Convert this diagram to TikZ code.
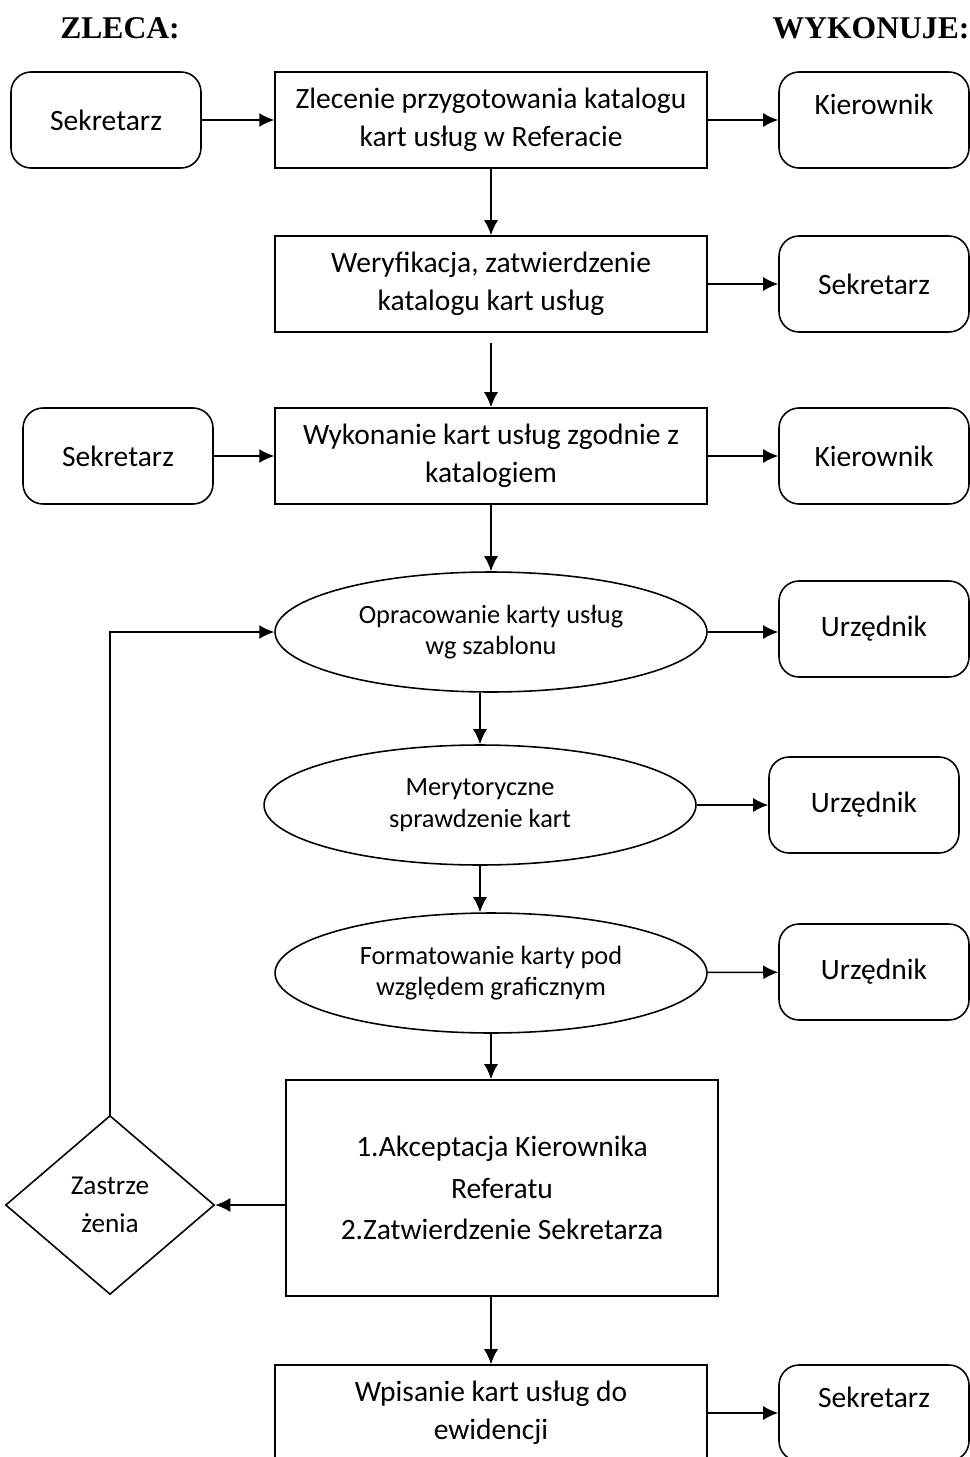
\documentclass[tikz,border=0pt]{standalone}
\usepackage{fontspec}
\setmainfont{Carlito}
\newfontfamily\headfont{Liberation Serif}
\usetikzlibrary{shapes.geometric,arrows.meta}
\begin{document}
\begin{tikzpicture}[x=0.02cm, y=-0.02cm, line width=0.9pt,
  font=\fontsize{16.8}{21.6}\selectfont,
  head/.style={font=\headfont\bfseries\fontsize{18}{20}\selectfont},
  task/.style={draw, minimum width=8.64cm, minimum height=1.92cm,
               align=center, inner sep=0pt},
  who/.style={draw, rounded corners=0.4cm, minimum width=3.8cm,
              minimum height=1.92cm, align=center},
  whotop/.style={who, text depth=0.62cm},
  oval/.style={draw, ellipse, minimum width=8.64cm, minimum height=2.4cm,
               inner sep=0pt, align=center, font=\fontsize{15}{18}\selectfont},
  check/.style={draw, diamond, minimum width=4.18cm, minimum height=3.58cm,
                inner sep=0pt, align=center, font=\fontsize{15.5}{21.6}\selectfont},
  arr/.style={-{Latex[length=0.3cm, width=0.28cm]}}
]
  \useasboundingbox (0,0) rectangle (970,1457);
  \clip (0,0) rectangle (970,1457);
  % Naglowki kolumn
  \node[head] (zleca) at (120,28) {ZLECA:};
  \node[head] (wyk)   at (871,28) {WYKONUJE:};
  % Zlecenie katalogu
  \node[who]    (sek1)  at (106,120) {Sekretarz};
  \node[task]   (box1)  at (491,120) {Zlecenie przygotowania katalogu\\kart usług w Referacie};
  \node[whotop] (kier1) at (874,120) {Kierownik};
  % Weryfikacja
  \node[task]   (box2)  at (491,284) {Weryfikacja, zatwierdzenie\\katalogu kart usług};
  \node[who]    (sek2)  at (874,284) {Sekretarz};
  % Wykonanie kart
  \node[who]    (sek3)  at (118,456) {Sekretarz};
  \node[task]   (box3)  at (491,456) {Wykonanie kart usług zgodnie z\\katalogiem};
  \node[who]    (kier3) at (874,456) {Kierownik};
  % Praca urzednikow
  \node[oval]   (ell1)  at (491,632) {Opracowanie karty usług\\wg szablonu};
  \node[who]    (urz1)  at (874,629) {Urzędnik};
  \node[oval]   (ell2)  at (480,805) {Merytoryczne\\sprawdzenie kart};
  \node[who]    (urz2)  at (864,805) {Urzędnik};
  \node[oval]   (ell3)  at (491,973) {Formatowanie karty pod\\względem graficznym};
  \node[who]    (urz3)  at (874,972) {Urzędnik};
  % Akceptacja
  \node[task, minimum height=4.32cm, font=\fontsize{16.8}{23.6}\selectfont] (box4) at (502,1188)
        {1.Akceptacja Kierownika\\Referatu\\2.Zatwierdzenie Sekretarza};
  \node[check]  (zastrz) at (110,1205) {Zastrze\\żenia};
  % Ewidencja
  \node[task]   (box5)  at (491,1413) {Wpisanie kart usług do\\ewidencji};
  \node[whotop] (sek5)  at (874,1413) {Sekretarz};
  % Strzalki
  \draw[arr] (sek1) -- (box1);
  \draw[arr] (box1) -- (kier1);
  \draw[arr] (box1) -- (box2);
  \draw[arr] (box2) -- (sek2);
  \draw[arr, shorten <=0.2cm] (box2) -- (box3);
  \draw[arr] (sek3) -- (box3);
  \draw[arr] (box3) -- (kier3);
  \draw[arr] (box3) -- (ell1);
  \draw[arr] (ell1) -- (urz1.west |- ell1);
  \draw[arr] (ell1.south -| ell2.north) -- (ell2.north);
  \draw[arr] (ell2) -- (urz2);
  \draw[arr] (ell2.south) -- (ell2.south |- ell3.north);
  \draw[arr] (ell3) -- (urz3);
  \draw[arr] (ell3.south) -- (ell3.south |- box4.north);
  \draw[arr] (box4.west |- zastrz) -- (zastrz.east);
  \draw[arr] (zastrz.north) |- (ell1.west);
  \draw[arr] (box4.south -| box5.north) -- (box5.north);
  \draw[arr] (box5) -- (sek5);
\end{tikzpicture}
\end{document}
